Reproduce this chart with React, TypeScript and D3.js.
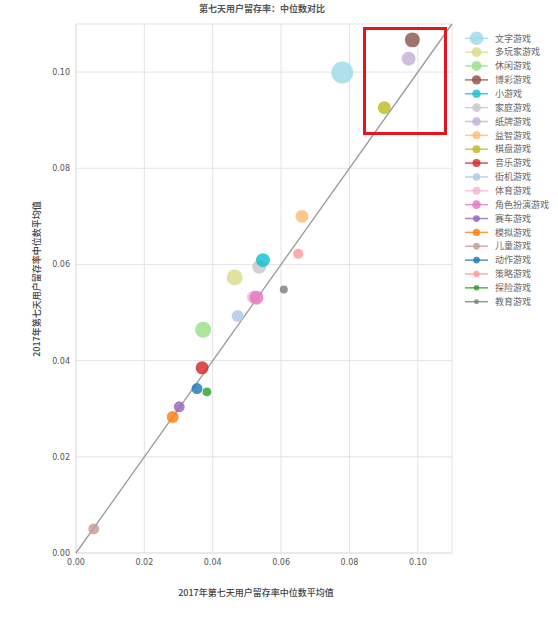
import React from "react";
import * as d3 from "d3";

const categories = ["文字游戏","多玩家游戏","休闲游戏","博彩游戏","小游戏","家庭游戏","纸牌游戏","益智游戏","棋盘游戏","音乐游戏","街机游戏","体育游戏","角色扮演游戏","赛车游戏","模拟游戏","儿童游戏","动作游戏","策略游戏","探险游戏","教育游戏"];
const xValues = [0.0779,0.0464,0.0372,0.0984,0.0547,0.0536,0.0973,0.0661,0.0902,0.0369,0.0473,0.0519,0.0528,0.0302,0.0283,0.0052,0.0354,0.0650,0.0383,0.0608];
const yValues = [0.0999,0.0573,0.0464,0.1067,0.0609,0.0595,0.1028,0.0700,0.0926,0.0385,0.0493,0.0532,0.0531,0.0304,0.0283,0.0050,0.0342,0.0622,0.0335,0.0548];
const weights = [121,64,64,56,49,49,49,42,42,42,36,42,49,30,36,30,30,25,20,16];
const colors = ["#9edae5","#dbdb8d","#98df8a","#8c564b","#17becf","#c7c7c7","#c5b0d5","#ffbb78","#bcbd22","#d62728","#aec7e8","#f7b6d2","#e377c2","#9467bd","#ff7f0e","#c49c94","#1f77b4","#ff9896","#2ca02c","#7f7f7f"];
const ticks = [0, 0.02, 0.04, 0.06, 0.08, 0.10];
const title = "第七天用户留存率：中位数对比";
const xLabel = "2017年第七天用户留存率中位数平均值";
const yLabel = "2017年第七天用户留存率中位数平均值";

const W = 558, H = 619;
const M = { left: 76, top: 24, right: 452, bottom: 553 };
const CJK = "'Noto Sans CJK SC', 'Noto Sans', sans-serif";
const NUM = "'DejaVu Sans', sans-serif";

export default function App() {
  const x = d3.scaleLinear().domain([0, 0.11]).range([M.left, M.right]);
  const y = d3.scaleLinear().domain([0, 0.11]).range([M.bottom, M.top]);
  const r = d3.scaleSqrt().domain([0, d3.max(weights) as number]).range([0, 11]);
  const grid = "#e3e3e8";
  const idx = d3.range(categories.length);
  // draw the light-gray 家庭游戏 bubble beneath 小游戏
  const drawOrder = [5, ...idx.filter((i) => i !== 5)];
  const legendY = d3.scaleLinear().domain([0, categories.length - 1]).range([38.3, 301.7]);

  return (
    <svg width={W} height={H} style={{ position: "absolute", left: 0, top: 0, background: "#fff" }}>
      <text x={262} y={12} textAnchor="middle" fontFamily={CJK} fontSize={9} fontWeight={700} fill="#555">{title}</text>
      {ticks.map((t) => (
        <g key={"g" + t}>
          <line x1={x(t)} x2={x(t)} y1={M.top} y2={M.bottom} stroke={grid} strokeWidth={1} />
          <line x1={M.left} x2={M.right} y1={y(t)} y2={y(t)} stroke={grid} strokeWidth={1} />
          <text x={x(t)} y={565} textAnchor="middle" fontFamily={NUM} fontSize={8} fill="#555">{d3.format(".2f")(t)}</text>
          <text x={70} y={y(t) + 3} textAnchor="end" fontFamily={NUM} fontSize={8} fill="#555">{d3.format(".2f")(t)}</text>
        </g>
      ))}
      <rect x={M.left} y={M.top} width={M.right - M.left} height={M.bottom - M.top} fill="none" stroke={grid} strokeWidth={1} />
      <line x1={x(0)} y1={y(0)} x2={x(0.11)} y2={y(0.11)} stroke="#9a9a9a" strokeWidth={1.3} />
      {drawOrder.map((i) => (
        <circle key={"c" + i} cx={x(xValues[i])} cy={y(yValues[i])} r={r(weights[i])} fill={colors[i]} fillOpacity={0.82} />
      ))}
      <rect x={364.5} y={28.5} width={81} height={105} fill="none" stroke="#e8141c" strokeWidth={3} />
      <text x={256} y={596} textAnchor="middle" fontFamily={CJK} fontSize={9} fontWeight={500} fill="#444">{xLabel}</text>
      <text transform={`translate(40,279) rotate(-90)`} textAnchor="middle" fontFamily={CJK} fontSize={9} fontWeight={500} fill="#444">{yLabel}</text>
      {idx.map((i) => (
        <g key={"l" + i} transform={`translate(0,${legendY(i)})`}>
          <line x1={465} x2={488} y1={0} y2={0} stroke={colors[i]} strokeWidth={1.5} strokeOpacity={0.8} />
          <circle cx={476.5} cy={0} r={r(weights[i]) * 0.62} fill={colors[i]} fillOpacity={0.82} />
          <text x={495} y={3.2} fontFamily={CJK} fontSize={9} fill="#666">{categories[i]}</text>
        </g>
      ))}
    </svg>
  );
}
